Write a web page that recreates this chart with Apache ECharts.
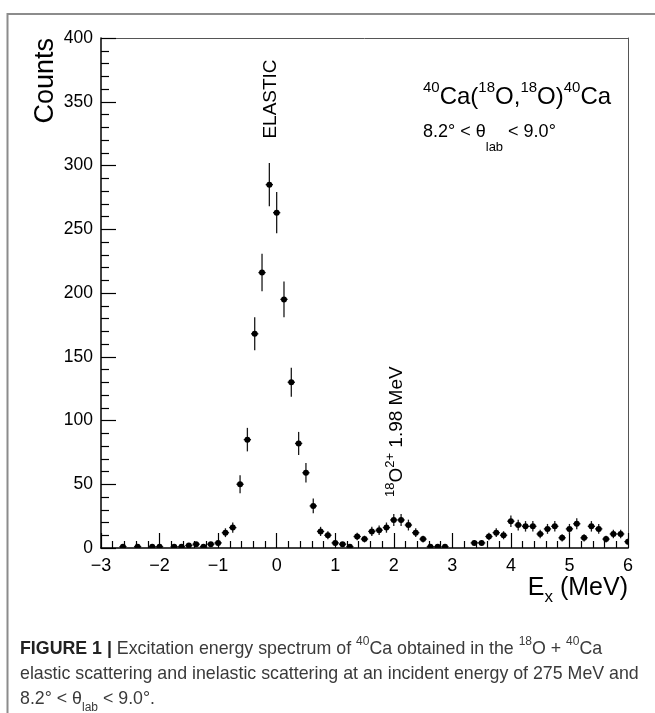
<!DOCTYPE html>
<html>
<head>
<meta charset="utf-8">
<script src="https://cdn.jsdelivr.net/npm/echarts@6.0.0/dist/echarts.min.js"></script>
<style>
html,body{margin:0;padding:0;background:#fff;}
#chart{width:655px;height:713px;}
</style>
</head>
<body>
<div id="chart"></div>
<script>
// ---- data (bin centres in MeV, counts per bin; empty bins are not drawn) ----
const energies = [
  -2.625, -2.375, -2.125, -2.0, -1.75, -1.625, -1.5, -1.375, -1.25, -1.125, -1.0,
  -0.875, -0.75, -0.625, -0.5, -0.375, -0.25, -0.125, 0.0, 0.125, 0.25, 0.375,
  0.5, 0.625, 0.75, 0.875, 1.0, 1.125, 1.25, 1.375, 1.5, 1.625, 1.75, 1.875,
  2.0, 2.125, 2.25, 2.375, 2.5, 2.625, 2.75, 2.875,
  3.375, 3.5, 3.625, 3.75, 3.875, 4.0, 4.125, 4.25, 4.375, 4.5, 4.625, 4.75,
  4.875, 5.0, 5.125, 5.25, 5.375, 5.5, 5.625, 5.75, 5.875, 6.0
];
const counts = [
  1, 1, 1, 1, 1, 1, 2, 3, 1, 3, 4,
  12, 16, 50, 85, 168, 216, 285, 263, 195, 130, 82,
  59, 33, 13, 10, 4, 3, 1, 9, 7, 13, 14, 16,
  22, 22, 18, 12, 7, 1, 1, 1,
  4, 4, 9, 12, 10, 21, 18, 17, 17, 11, 15, 17,
  8, 15, 19, 8, 17, 15, 7, 11, 11, 5
];
const binWidth = 0.125;
const xTickValues = [-3, -2, -1, 0, 1, 2, 3, 4, 5, 6];
const yTickValues = [0, 50, 100, 150, 200, 250, 300, 350, 400];

const FONT = "'Liberation Sans', Arial, Helvetica, sans-serif";

const chart = echarts.init(document.getElementById('chart'));

function rt(size, valign, extra) {
  return Object.assign({ fontSize: size, fontFamily: FONT, fill: '#000', verticalAlign: valign }, extra || {});
}

const option = {
  animation: false,
  backgroundColor: '#fff',
  grid: { left: 101, top: 38, width: 527, height: 510, containLabel: false, outerBoundsMode: 'none' },
  xAxis: [
    {
      type: 'value', position: 'bottom',
      min: xTickValues[0], max: xTickValues[xTickValues.length - 1],
      interval: xTickValues[1] - xTickValues[0],
      axisLine: { show: true, onZero: false, lineStyle: { color: '#000', width: 1.5 } },
      axisTick: { show: true, inside: true, length: 15, lineStyle: { color: '#000', width: 1.2 } },
      minorTick: { show: true, splitNumber: 5, length: 7, lineStyle: { color: '#000', width: 1.2 } },
      axisLabel: {
        color: '#000', fontSize: 18, fontFamily: FONT, margin: 9,
        showMinLabel: true, showMaxLabel: true,
        formatter: v => String(v).replace('-', '\u2212')
      },
      splitLine: { show: false }, minorSplitLine: { show: false }
    },
    {
      type: 'value', position: 'top',
      min: xTickValues[0], max: xTickValues[xTickValues.length - 1],
      axisLine: { show: true, onZero: false, lineStyle: { color: '#555', width: 1 } },
      axisTick: { show: false }, axisLabel: { show: false }, splitLine: { show: false }
    }
  ],
  yAxis: [
    {
      type: 'value', position: 'left',
      min: yTickValues[0], max: yTickValues[yTickValues.length - 1],
      interval: yTickValues[1] - yTickValues[0],
      axisLine: { show: true, onZero: false, lineStyle: { color: '#000', width: 1.5 } },
      axisTick: { show: true, inside: true, length: 15, lineStyle: { color: '#000', width: 1.2 } },
      minorTick: { show: true, splitNumber: 5, length: 8, lineStyle: { color: '#000', width: 1.2 } },
      axisLabel: { color: '#000', fontSize: 17.5, fontFamily: FONT, margin: 8, showMinLabel: true, showMaxLabel: true },
      splitLine: { show: false }, minorSplitLine: { show: false }
    },
    {
      type: 'value', position: 'right',
      min: yTickValues[0], max: yTickValues[yTickValues.length - 1],
      axisLine: { show: true, onZero: false, lineStyle: { color: '#555', width: 1 } },
      axisTick: { show: false }, axisLabel: { show: false }, splitLine: { show: false }
    }
  ],
  series: [
    {
      type: 'custom',
      xAxisIndex: 0, yAxisIndex: 0,
      clip: true,
      data: energies.map((e, i) => [e, counts[i]]),
      renderItem: function (params, api) {
        const x = api.value(0), n = api.value(1);
        const err = Math.sqrt(n);
        const c = api.coord([x, n]);
        const hi = api.coord([x, n + err]);
        const lo = api.coord([x, Math.max(n - err, 0)]);
        const l = api.coord([x - binWidth / 2, n]);
        const r = api.coord([x + binWidth / 2, n]);
        const ls = { stroke: '#1a1a1a', lineWidth: 1.3 };
        return {
          type: 'group',
          children: [
            { type: 'line', shape: { x1: c[0], y1: hi[1], x2: c[0], y2: lo[1] }, style: ls },
            { type: 'line', shape: { x1: l[0], y1: c[1], x2: r[0], y2: c[1] }, style: ls },
            { type: 'circle', shape: { cx: c[0], cy: c[1], r: 3 }, style: { fill: '#000' } }
          ]
        };
      }
    }
  ],
  graphic: [
    // outer figure frame
    { type: 'polyline', shape: { points: [[7.5, 713], [7.5, 14], [656, 14]] },
      style: { stroke: '#8c8c8c', lineWidth: 2, fill: null }, silent: true },
    // y title
    { type: 'text', x: 59, y: 38, rotation: Math.PI / 2,
      style: { text: 'Counts', fontSize: 27, fontFamily: FONT, fill: '#000', textAlign: 'right', textVerticalAlign: 'bottom' } },
    // x title
    { type: 'text', x: 628, y: 576,
      style: {
        text: '{n|E}{s|x}{n| (MeV)}', textAlign: 'right', textVerticalAlign: 'top', lineHeight: 30,
        rich: { n: rt(25, 'top'), s: rt(17, 'bottom') }
      } },
    // ELASTIC label
    { type: 'text', x: 271, y: 99, rotation: Math.PI / 2,
      style: { text: 'ELASTIC', fontSize: 19, fontFamily: FONT, fill: '#000', textAlign: 'center', textVerticalAlign: 'middle' } },
    // 18O 2+ label
    { type: 'text', x: 395, y: 497, rotation: Math.PI / 2,
      style: {
        text: '{s|18}{n|O}{s|2+}{n| 1.98 MeV}', textAlign: 'left', textVerticalAlign: 'middle', lineHeight: 23,
        rich: { n: rt(19, 'bottom'), s: rt(13, 'top') }
      } },
    // reaction
    { type: 'text', x: 423, y: 80.5,
      style: {
        text: '{s|40}{n|Ca(}{s|18}{n|O,}{s|18}{n|O)}{s|40}{n|Ca}', textAlign: 'left', textVerticalAlign: 'top', lineHeight: 28.5,
        rich: { n: rt(24, 'bottom'), s: rt(15, 'top') }
      } },
    // angle range
    { type: 'text', x: 423, y: 122.7,
      style: {
        text: '{n|8.2\u00b0 < \u03b8}{b|lab}{n| < 9.0\u00b0}', textAlign: 'left', textVerticalAlign: 'top', lineHeight: 31,
        rich: { n: rt(18, 'top'), b: rt(13, 'bottom') }
      } },
    // caption
    { type: 'text', x: 20, y: 635.7,
      style: {
        text: '{b|FIGURE 1 |}{n| Excitation energy spectrum of }{s|40}{n|Ca obtained in the }{s|18}{n|O + }{s|40}{n|Ca}',
        textAlign: 'left', textVerticalAlign: 'top', lineHeight: 22,
        rich: {
          b: rt(17.8, 'bottom', { fontWeight: 'bold', fill: '#222' }),
          n: rt(17.8, 'bottom', { fill: '#3a3a3a' }),
          s: rt(12, 'top', { fill: '#3a3a3a' })
        }
      } },
    { type: 'text', x: 20, y: 660.7,
      style: {
        text: '{n|elastic scattering and inelastic scattering at an incident energy of 275 MeV and}',
        textAlign: 'left', textVerticalAlign: 'top', lineHeight: 22,
        rich: { n: rt(17.8, 'bottom', { fill: '#3a3a3a' }) }
      } },
    { type: 'text', x: 20, y: 689.9,
      style: {
        text: '{n|8.2\u00b0 < \u03b8}{b|lab}{n| < 9.0\u00b0.}',
        textAlign: 'left', textVerticalAlign: 'top', lineHeight: 24,
        rich: { n: rt(17.8, 'top', { fill: '#3a3a3a' }), b: rt(12, 'bottom', { fill: '#3a3a3a' }) }
      } }
  ]
};

chart.setOption(option);
</script>
</body>
</html>
